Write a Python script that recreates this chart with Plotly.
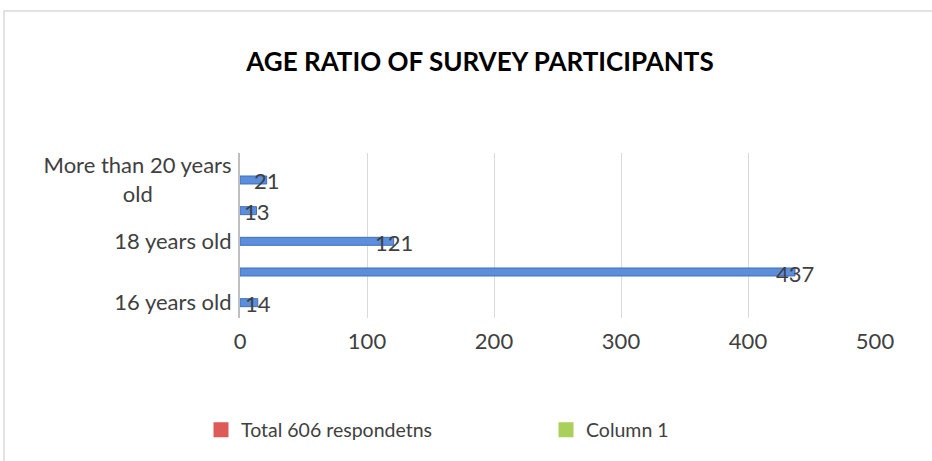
import plotly.graph_objects as go

categories = ["16 years old", "17 years old", "18 years old", "19 years old", "More than 20 years old"]
values = [14, 437, 121, 13, 21]
tick_vals = ["16 years old", "18 years old", "More than 20 years old"]
tick_text = ["16 years old", "18 years old", "More than 20 years<br>old" + "\u00a0" * 14]
legend_names = ["Total 606 respondetns", "Column 1"]
legend_colors = ["#DE5A57", "#A9D05A"]
x_ticks = [0, 100, 200, 300, 400, 500]

FONT = "Lato"
TXT = "#404040"

# plot area in pixels: x 240..875, y 153..318
PL, PR, PT, PB = 240, 875, 153, 318
def px_x(p):
    return (p - PL) / (PR - PL)
def px_y(p):
    return (PB - p) / (PB - PT)

fig = go.Figure()
fig.add_trace(go.Bar(
    x=values, y=categories, orientation="h",
    marker=dict(color="#5B8FDC", line=dict(color="#3E6FC0", width=1)),
    showlegend=False, hoverinfo="x+y",
))
legend_ids = ["legend", "legend2"]
for name, col, lg in zip(legend_names, legend_colors, legend_ids):
    fig.add_trace(go.Scatter(x=[None], y=[None], mode="markers", name=name,
                             marker=dict(color=col, symbol="square", size=12,
                                         line=dict(color=col, width=3)),
                             showlegend=True, legend=lg))

for v, c in zip(values, categories):
    fig.add_annotation(x=v, y=c, text=str(v), showarrow=False, xanchor="center",
                       yanchor="middle", yshift=-1, font=dict(family=FONT, size=22, color=TXT))

legend_common = dict(orientation="h", yanchor="middle", y=px_y(430), xanchor="left",
                     font=dict(family=FONT, size=19.5, color=TXT), itemwidth=30,
                     bgcolor="rgba(0,0,0,0)")
fig.update_layout(
    width=932, height=461,
    margin=dict(l=PL, r=932 - PR, t=PT, b=461 - PB, autoexpand=False),
    paper_bgcolor="white", plot_bgcolor="white",
    bargap=0.74, barmode="overlay",
    title=dict(text="<b>AGE RATIO OF SURVEY PARTICIPANTS</b>", x=0.515, xanchor="center",
               y=1 - 62 / 461, yanchor="middle", font=dict(family=FONT, size=26, color="black")),
    font=dict(family=FONT, size=22, color=TXT),
    legend=dict(x=px_x(201), **legend_common),
    legend2=dict(x=px_x(546), **legend_common),
    showlegend=True,
)
fig.update_xaxes(range=[0, 500], tickvals=x_ticks, showgrid=True, gridcolor="#D9D9D9", gridwidth=1,
                 zeroline=False, showline=False, ticks="", tickfont=dict(family=FONT, size=22, color=TXT),
                 ticklabelstandoff=8, fixedrange=True)
fig.update_yaxes(categoryorder="array", categoryarray=categories, tickvals=tick_vals, ticktext=tick_text,
                 showline=True, linecolor="#BFBFBF", linewidth=2, showgrid=False, ticks="",
                 tickfont=dict(family=FONT, size=22, color=TXT), range=[-0.5, 4.88], fixedrange=True,
                 ticklabelstandoff=2)

# chart outer border
fig.add_shape(type="rect", xref="paper", yref="paper",
              x0=px_x(4), x1=px_x(945), y0=px_y(475), y1=px_y(11),
              line=dict(color="#D9D9D9", width=1.5), fillcolor="rgba(0,0,0,0)", layer="below")

fig.write_html("out.html")
